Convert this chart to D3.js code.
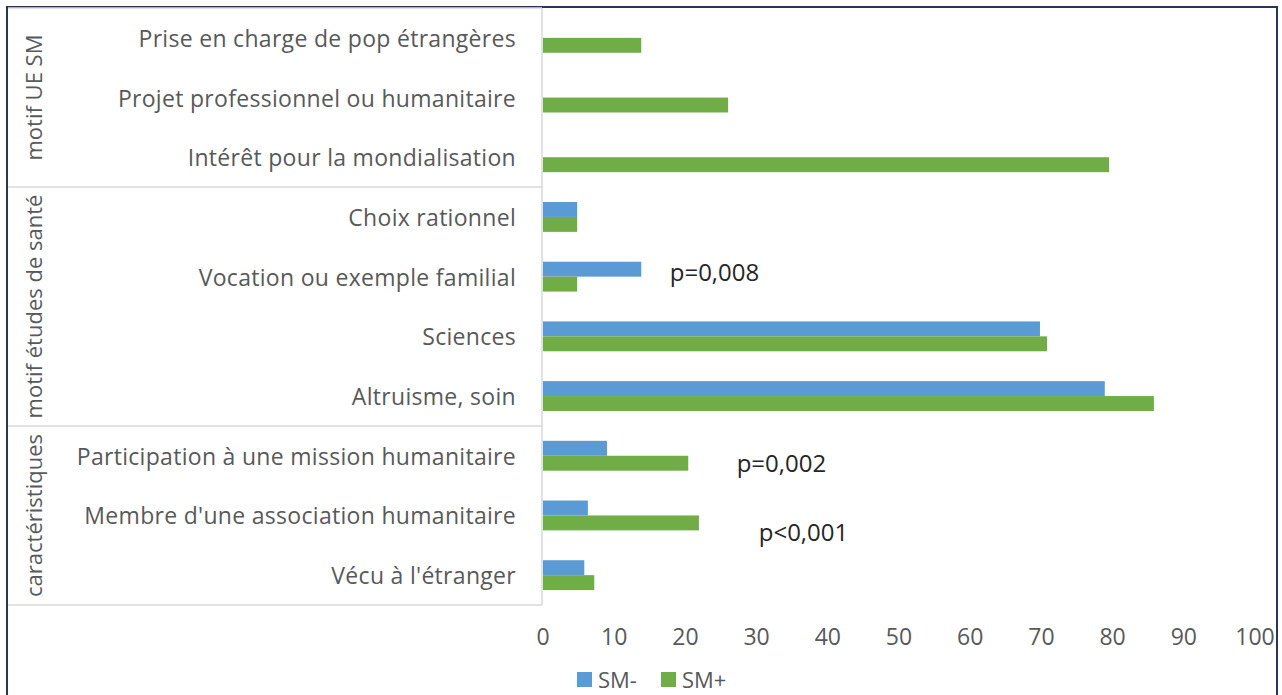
<html>
<head>
<script src="https://d3js.org/d3.v7.min.js"></script>
<style>
  body { margin: 0; background: #fff; }
  text { font-family: "Open Sans", sans-serif; }
</style>
</head>
<body>
<div id="chart"></div>
<script>
// categories top -> bottom
var categories = [
  "Prise en charge de pop étrangères",
  "Projet professionnel ou humanitaire",
  "Intérêt pour la mondialisation",
  "Choix rationnel",
  "Vocation ou exemple familial",
  "Sciences",
  "Altruisme, soin",
  "Participation à une mission humanitaire",
  "Membre d'une association humanitaire",
  "Vécu à l'étranger"
];
var smMinus = [null, null, null, 4.8, 13.8, 69.8, 78.9, 9.0, 6.3, 5.8];
var smPlus  = [13.8, 26, 79.5, 4.8, 4.8, 70.8, 85.8, 20.4, 21.9, 7.2];
var seriesNames = ["SM-", "SM+"];

var groupNames = ["motif UE SM", "motif études de santé", "caractéristiques"];
var groupFirst = [0, 3, 7];
var groupLast  = [2, 6, 9];

var pLabels = ["p=0,008", "p=0,002", "p<0,001"];
var pCats   = [4, 7, 8];
var pAt     = [17.8, 27.2, 30.3];   // x position in axis units
var pShift  = [-5, 7, 16];

var xTicks = [0, 10, 20, 30, 40, 50, 60, 70, 80, 90, 100];

var W = 1282, H = 695;
var colors = ["#5B9BD5", "#70AD47"];
var gray = "#595959";

var svg = d3.select("#chart").append("svg")
  .attr("width", W).attr("height", H);

// outer frame
svg.append("rect")
  .attr("x", 7).attr("y", 7).attr("width", 1270).attr("height", 700)
  .attr("fill", "none").attr("stroke", "#2a3553").attr("stroke-width", 2);

var x = d3.scaleLinear().domain([0, 100]).range([543, 1255]);
var y = d3.scaleBand().domain(d3.range(categories.length))
  .range([8, 605]).paddingInner(0.5).paddingOuter(0.25);

// group box: boundaries halfway between categories
var boxL = 8, boxR = 542;
function edgeTop(i) { return i === 0 ? y.range()[0] : y(i) - y.step() * 0.25; }
function edgeBot(i) { return i === categories.length - 1 ? y.range()[1] : y(i) + y.bandwidth() + y.step() * 0.25; }

groupNames.forEach(function(name, g) {
  var t = edgeTop(groupFirst[g]), b = edgeBot(groupLast[g]);
  svg.append("line").attr("x1", boxL).attr("x2", boxR).attr("y1", t).attr("y2", t)
    .attr("stroke", "#d9d9d9").attr("stroke-width", 1.5);
  if (g === groupNames.length - 1) {
    svg.append("line").attr("x1", boxL).attr("x2", boxR).attr("y1", b).attr("y2", b)
      .attr("stroke", "#d9d9d9").attr("stroke-width", 1.5);
  }
  svg.append("text")
    .attr("transform", "translate(33," + ((t + b) / 2) + ") rotate(-90)")
    .attr("text-anchor", "middle").attr("dominant-baseline", "central")
    .attr("fill", gray).style("font-size", "22px")
    .text(name);
});
svg.append("line").attr("x1", boxR).attr("x2", boxR).attr("y1", y.range()[0]).attr("y2", y.range()[1])
  .attr("stroke", "#d9d9d9").attr("stroke-width", 1.5);

// category labels
svg.selectAll(".cat").data(categories).enter().append("text")
  .attr("class", "cat")
  .attr("x", 516)
  .attr("y", function(d, i) { return y(i) + y.bandwidth() / 2; })
  .attr("text-anchor", "end").attr("dominant-baseline", "central")
  .attr("fill", gray).style("font-size", "23px").style("letter-spacing", "0.3px")
  .text(function(d) { return d; });

// bars
[smMinus, smPlus].forEach(function(vals, s) {
  var rows = vals.map(function(v, i) { return {i: i, v: v}; })
    .filter(function(d) { return d.v !== null; });
  svg.selectAll(".bar" + s).data(rows).enter().append("rect")
    .attr("class", "bar" + s)
    .attr("x", x(0))
    .attr("y", function(d) { return y(d.i) + s * y.bandwidth() / 2; })
    .attr("width", function(d) { return x(d.v) - x(0); })
    .attr("height", y.bandwidth() / 2)
    .attr("fill", colors[s]);
});

// x axis labels
svg.selectAll(".xt").data(xTicks).enter().append("text")
  .attr("class", "xt")
  .attr("x", function(d) { return x(d); })
  .attr("y", 636)
  .attr("text-anchor", "middle").attr("dominant-baseline", "central")
  .attr("fill", gray).style("font-size", "23px")
  .text(function(d) { return d; });

// p-values
pLabels.forEach(function(t, i) {
  svg.append("text")
    .attr("x", x(pAt[i]))
    .attr("y", y(pCats[i]) + y.bandwidth() / 2 + pShift[i])
    .attr("dominant-baseline", "central")
    .attr("fill", "#262626").style("font-size", "24px")
    .text(t);
});

// legend (reference is cropped at the bottom; kept just inside the frame)
var leg = svg.append("g").attr("transform", "translate(577,679)");
seriesNames.forEach(function(n, i) {
  var g = leg.append("g").attr("transform", "translate(" + (i * 84) + ",0)");
  g.append("rect").attr("x", 0).attr("y", -7).attr("width", 15).attr("height", 15).attr("fill", colors[i]);
  g.append("text").attr("x", 21).attr("y", 0).attr("dominant-baseline", "central")
    .attr("fill", gray).style("font-size", "22px").text(n);
});
</script>
</body>
</html>
